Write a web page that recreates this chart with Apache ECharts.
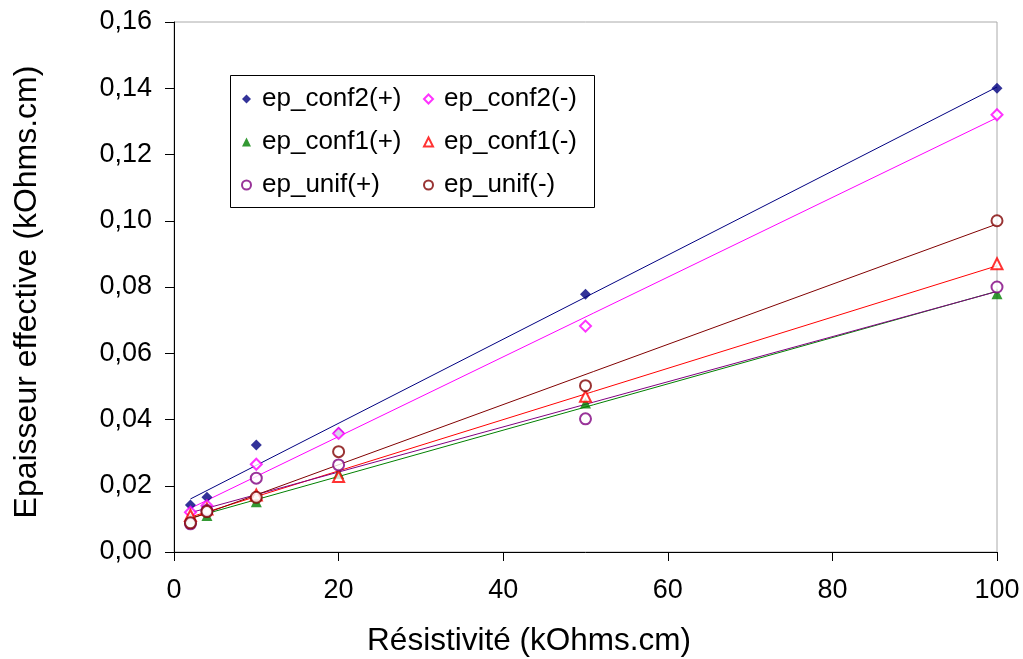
<!DOCTYPE html>
<html>
<head>
<meta charset="utf-8">
<script src="https://cdn.jsdelivr.net/npm/echarts@6/dist/echarts.min.js"></script>
<style>html,body{margin:0;padding:0;background:#fff;}#c{width:1023px;height:659px;}</style>
</head>
<body>
<div id="c"></div>
<script>
var xValues = [2, 4, 10, 20, 50, 100];
var conf2Plus  = [0.0142, 0.0165, 0.0323, 0.0361, 0.0778, 0.1400];
var conf2Minus = [0.0120, 0.0140, 0.0265, 0.0358, 0.0682, 0.1320];
var conf1Plus  = [0.0100, 0.0110, 0.0152, 0.0237, 0.0450, 0.0780];
var conf1Minus = [0.0110, 0.0130, 0.0172, 0.0228, 0.0470, 0.0870];
var unifPlus   = [0.0085, 0.0125, 0.0223, 0.0263, 0.0402, 0.0800];
var unifMinus  = [0.0088, 0.0122, 0.0165, 0.0303, 0.0502, 0.1000];
var seriesNames = ['ep_conf2(+)', 'ep_conf2(-)', 'ep_conf1(+)', 'ep_conf1(-)', 'ep_unif(+)', 'ep_unif(-)'];

var defs = [
  {name: seriesNames[0], data: conf2Plus,  color: '#000080', symbol: 'diamond', filled: true, size: 11},
  {name: seriesNames[1], data: conf2Minus, color: '#FF00FF', symbol: 'diamond', filled: false, size: 11},
  {name: seriesNames[2], data: conf1Plus,  color: '#008000', symbol: 'triangle', filled: true, size: 11},
  {name: seriesNames[3], data: conf1Minus, color: '#FF0000', symbol: 'triangle', filled: false, size: 11},
  {name: seriesNames[4], data: unifPlus,   color: '#800080', symbol: 'circle', filled: false, size: 11},
  {name: seriesNames[5], data: unifMinus,  color: '#800000', symbol: 'circle', filled: false, size: 11}
];

function fit(xs, ys) {
  var n = xs.length, mx = 0, my = 0;
  for (var i = 0; i < n; i++) { mx += xs[i]; my += ys[i]; }
  mx /= n; my /= n;
  var sxx = 0, sxy = 0;
  for (var j = 0; j < n; j++) { sxx += (xs[j]-mx)*(xs[j]-mx); sxy += (xs[j]-mx)*(ys[j]-my); }
  var b = sxy / sxx, a = my - b * mx;
  var x0 = xs[0], x1 = xs[n-1];
  return [[x0, a + b*x0], [x1, a + b*x1]];
}

var series = [];
defs.forEach(function(d){
  series.push({
    type: 'line', name: d.name + '_trend', data: fit(xValues, d.data),
    symbol: 'none', lineStyle: {color: d.color, width: 1}, silent: true, z: 2
  });
});
defs.forEach(function(d){
  series.push({
    type: 'scatter', name: d.name,
    data: xValues.map(function(x, i){ return [x, d.data[i]]; }),
    symbol: d.filled ? d.symbol : 'empty' + d.symbol.charAt(0).toUpperCase() + d.symbol.slice(1),
    symbolSize: d.size,
    itemStyle: d.filled ? {color: d.color} : {color: d.color, borderColor: d.color, borderWidth: 1},
    z: 3
  });
});

var font = 'Liberation Sans, Arial, sans-serif';
var chart = echarts.init(document.getElementById('c'));
var legendBase = {
  orient: 'vertical', padding: 0, itemWidth: 9, itemHeight: 9, itemGap: 17,
  textStyle: {fontFamily: font, fontSize: 26, color: '#000', lineHeight: 26, padding: [0,0,0,6]},
  top: 86, selectedMode: false
};
chart.setOption({
  animation: false,
  grid: {left: 174, right: 26, top: 22, bottom: 107, show: true, borderColor: '#aaa', borderWidth: 1},
  xAxis: {
    type: 'value', min: 0, max: 100, interval: 20,
    axisLine: {show: true, lineStyle: {color: '#000', width: 1}},
    axisTick: {show: true, inside: false, length: 9, lineStyle: {color: '#000'}},
    axisLabel: {fontFamily: font, fontSize: 27, color: '#000', margin: 25},
    splitLine: {show: false}
  },
  yAxis: {
    type: 'value', min: 0, max: 0.16, interval: 0.02,
    axisLine: {show: true, lineStyle: {color: '#000', width: 1}},
    axisTick: {show: true, inside: false, length: 9, lineStyle: {color: '#000'}},
    axisLabel: {fontFamily: font, fontSize: 27, color: '#000', margin: 22,
      formatter: function(v){ return v.toFixed(2).replace('.', ','); }},
    splitLine: {show: false}
  },
  legend: [
    Object.assign({}, legendBase, {left: 241, data: [seriesNames[0], seriesNames[2], seriesNames[4]]}),
    Object.assign({}, legendBase, {left: 423, data: [seriesNames[1], seriesNames[3], seriesNames[5]]})
  ],
  graphic: [
    {type: 'rect', left: 228, top: 73, shape: {width: 364, height: 132}, style: {fill: 'none', stroke: '#000', lineWidth: 1}, z: 1},
    {type: 'text', x: 529, y: 641, style: {text: 'Résistivité (kOhms.cm)', font: '31.5px ' + font, fill: '#000', textAlign: 'center', textVerticalAlign: 'middle'}},
    {type: 'text', x: 27, y: 292, rotation: Math.PI/2, style: {text: 'Epaisseur effective (kOhms.cm)', font: '32px ' + font, fill: '#000', textAlign: 'center', textVerticalAlign: 'middle'}}
  ],
  series: series
});
</script>
</body>
</html>
